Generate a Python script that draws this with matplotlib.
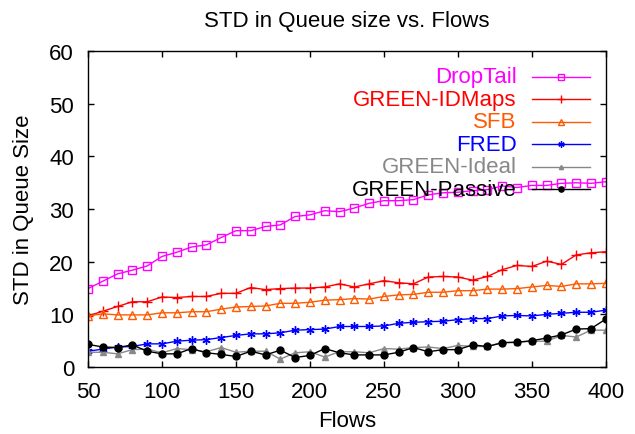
import matplotlib
matplotlib.use("Agg")
import matplotlib.pyplot as plt
import numpy as np

plt.rcParams["font.family"] = ["Liberation Sans", "DejaVu Sans"]

FLOWS = list(range(50, 401, 10))

DROPTAIL = [14.9, 16.3, 17.7, 18.4, 19.2, 21.0, 21.8, 22.8, 23.2, 24.6,
            25.9, 25.9, 26.7, 27.0, 28.6, 28.9, 29.7, 29.5, 30.2, 31.1,
            31.6, 31.6, 31.8, 32.7, 33.1, 33.2, 33.5, 33.7, 34.4, 34.1,
            34.5, 34.5, 34.9, 35.0, 34.9, 35.2]
IDMAPS = [9.7, 10.6, 11.5, 12.4, 12.4, 13.3, 13.2, 13.4, 13.4, 14.0,
          14.0, 15.1, 14.7, 14.9, 15.0, 15.0, 15.2, 15.8, 15.2, 15.8,
          16.4, 16.0, 15.8, 17.1, 17.2, 17.1, 16.5, 17.2, 18.5, 19.3,
          19.1, 20.1, 19.5, 21.3, 21.7, 21.9]
SFB = [9.7, 10.1, 9.9, 9.9, 9.9, 10.3, 10.3, 10.5, 10.5, 11.0,
       11.4, 11.5, 11.6, 12.1, 12.1, 12.3, 12.7, 12.8, 13.0, 12.9,
       13.4, 13.7, 13.8, 14.2, 14.2, 14.5, 14.5, 14.8, 14.8, 14.9,
       15.2, 15.5, 15.3, 15.8, 15.8, 15.9]
FRED = [3.0, 3.4, 3.8, 3.9, 4.4, 4.4, 4.9, 5.1, 5.2, 5.6,
        6.0, 6.3, 6.3, 6.5, 7.0, 7.1, 7.2, 7.7, 7.7, 7.7,
        7.8, 8.3, 8.5, 8.6, 8.7, 9.0, 9.2, 9.2, 9.7, 9.8,
        9.7, 10.0, 10.2, 10.4, 10.4, 10.8]
IDEAL = [2.8, 2.8, 2.5, 3.3, 3.4, 2.7, 3.5, 3.3, 2.9, 3.7,
         2.8, 3.0, 3.0, 1.5, 2.7, 2.9, 1.9, 2.9, 2.9, 2.7,
         3.5, 3.4, 3.7, 3.8, 3.5, 4.1, 3.9, 3.9, 4.7, 4.7,
         4.9, 4.9, 6.0, 5.7, 7.0, 7.0]
PASSIVE = [4.3, 3.8, 3.7, 4.2, 3.0, 2.5, 2.5, 3.5, 2.7, 2.4,
           2.0, 3.0, 2.3, 3.2, 1.8, 2.2, 3.5, 2.7, 2.3, 2.3,
           2.3, 2.8, 3.7, 2.9, 3.3, 3.3, 4.2, 3.9, 4.6, 4.7,
           5.0, 5.5, 6.1, 7.2, 7.3, 9.1]

SERIES = [
    ("DropTail", DROPTAIL, "#ff00ff", dict(marker="s", ms=5.5, mfc="none", mew=1.0)),
    ("GREEN-IDMaps", IDMAPS, "#ff0000", dict(marker="+", ms=7, mew=1.0)),
    ("SFB", SFB, "#ff5a00", dict(marker="^", ms=5.5, mfc="none", mew=1.0)),
    ("FRED", FRED, "#0000ff", dict(marker=(6, 2, 0), ms=6, mew=1.0)),
    ("GREEN-Ideal", IDEAL, "#888888", dict(marker="^", ms=4)),
    ("GREEN-Passive", PASSIVE, "#000000", dict(marker="o", ms=5)),
]


def main():
    fig = plt.figure(figsize=(6.35, 4.35), dpi=100)
    ax = fig.add_axes([0.1386, 0.154, 0.8154, 0.726])

    for name, vals, color, style in SERIES:
        ax.plot(FLOWS, vals, color=color, lw=1.0, **style)

    ax.set_xlim(50, 400)
    ax.set_ylim(0, 60)
    ax.set_xticks(np.arange(50, 401, 50))
    ax.set_yticks(np.arange(0, 61, 10))
    ax.tick_params(direction="in", length=4, width=1, labelsize=16, pad=10,
                   top=True, right=True)
    for sp in ax.spines.values():
        sp.set_linewidth(1.0)

    ax.set_title("STD in Queue size vs. Flows", fontsize=16, pad=18)
    ax.set_xlabel("Flows", fontsize=16, labelpad=6)
    ax.set_ylabel("STD in Queue Size", fontsize=16, labelpad=11)

    # gnuplot-style key: right-aligned text, sample to its right
    y0, dy = 0.919, 0.0713
    for i, (name, vals, color, style) in enumerate(SERIES):
        y = y0 - i * dy
        ax.text(0.828, y, name, transform=ax.transAxes, ha="right", va="center",
                color=color, fontsize=16)
        ax.plot([0.857, 0.969], [y, y], transform=ax.transAxes, color=color, lw=1.0)
        st = dict(style)
        st["ms"] = st["ms"] * 0.75
        ax.plot([0.913], [y], transform=ax.transAxes, color=color, lw=0, **st)

    fig.savefig("out.png", dpi=100)
    plt.close(fig)


if __name__ == "__main__":
    main()
